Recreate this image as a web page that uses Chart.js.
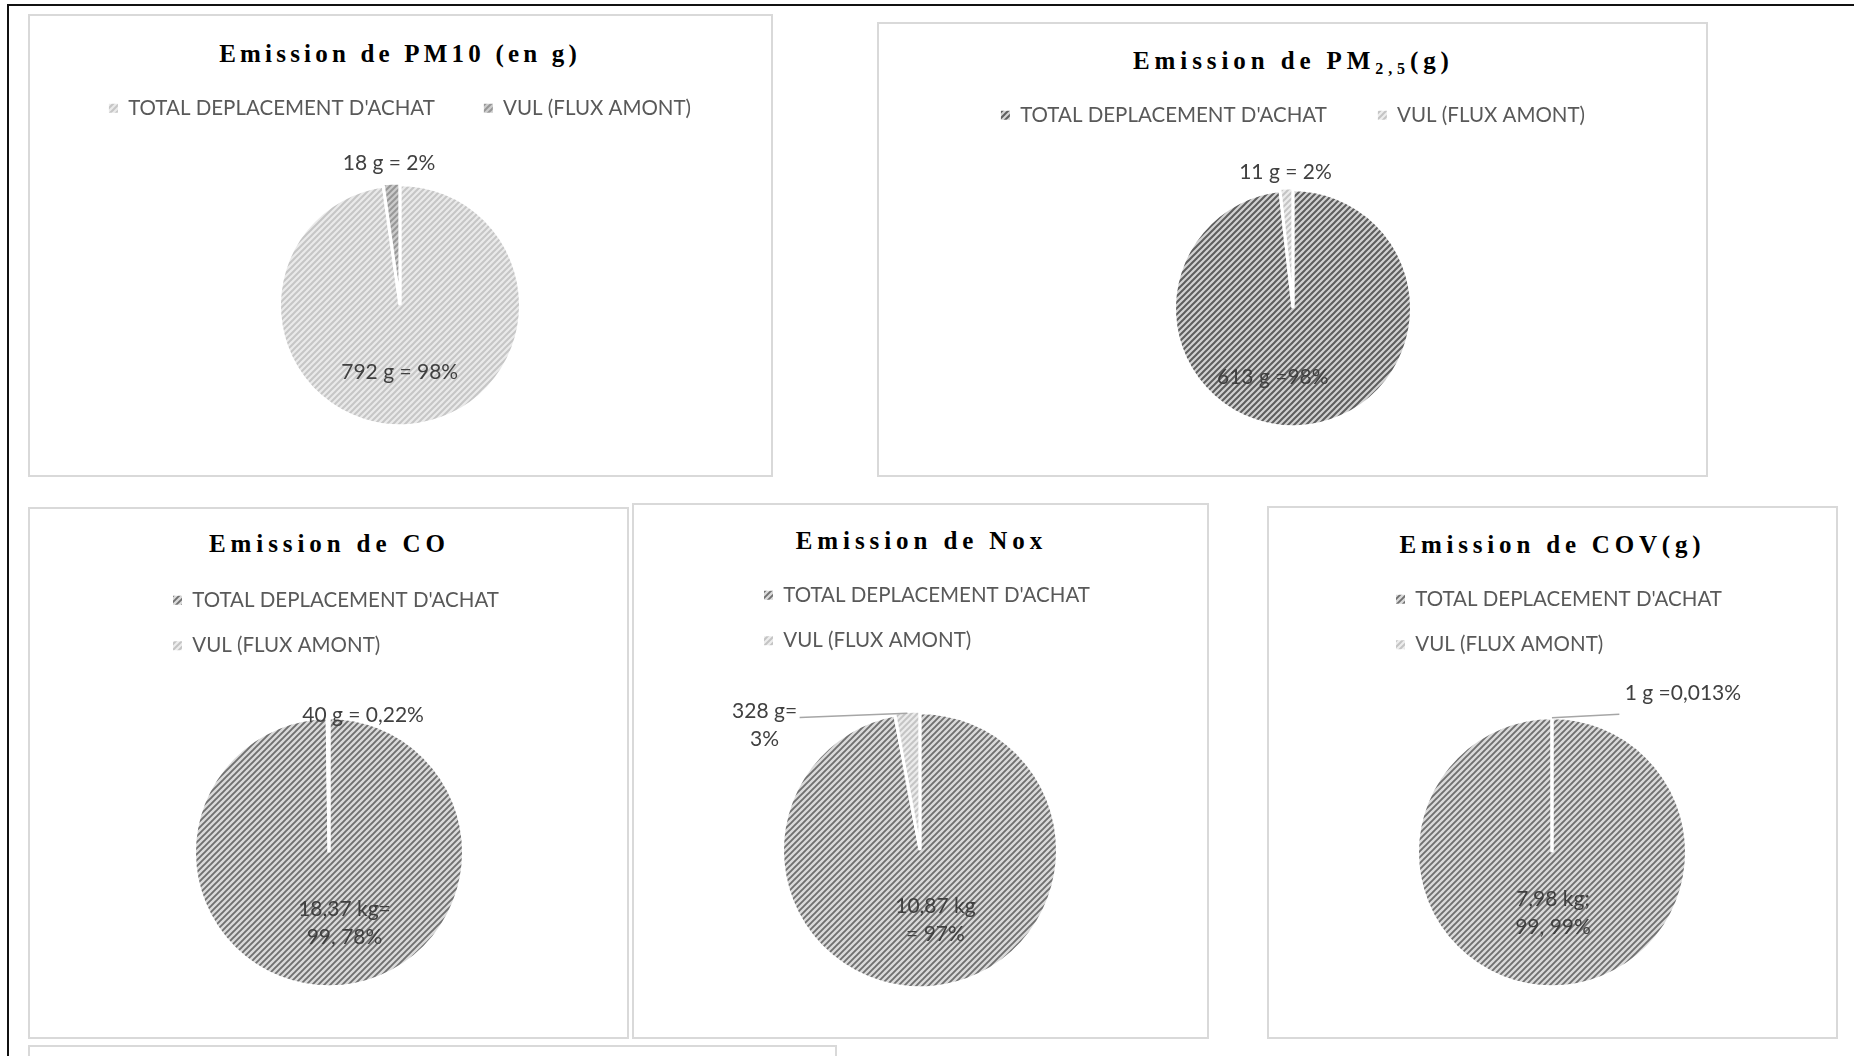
<!DOCTYPE html>
<html>
<head>
<meta charset="utf-8">
<script src="https://cdn.jsdelivr.net/npm/chart.js@4.4.1/dist/chart.umd.min.js"></script>
<style>
html,body{margin:0;padding:0;background:#fff;}
body{width:1854px;height:1056px;position:relative;overflow:hidden;}
.frame-top{position:absolute;left:7px;top:4px;width:1847px;height:2px;background:#111;}
.frame-left{position:absolute;left:7px;top:4px;width:2px;height:1052px;background:#111;}
.panel{position:absolute;border:2px solid #d9d9d9;box-sizing:border-box;}
.title{position:absolute;width:700px;font-family:"Liberation Serif","Times New Roman",serif;font-weight:bold;font-size:25px;line-height:25px;color:#000;text-align:center;white-space:nowrap;}
.title sub{font-size:16px;line-height:0;vertical-align:-5px;}
.chartbox{position:absolute;}
</style>
</head>
<body>
<div class="frame-top"></div>
<div class="frame-left"></div>
<div id="root"></div>
<script>
// ---------- data ----------
const legendLabels = ["TOTAL DEPLACEMENT D'ACHAT", "VUL (FLUX AMONT)"];

const pm10Values = [792, 18];
const pm10Texts = ["792 g = 98%", "18 g = 2%"];

const pm25Values = [613, 11];
const pm25Texts = ["613 g =98%", "11 g = 2%"];

const coValues = [18370, 40];
const coTexts = [["18,37 kg=", "99, 78%"], ["40 g = 0,22%"]];

const noxValues = [10870, 328];
const noxTexts = [["10,87 kg", "= 97%"], ["328 g=", "3%"]];

const covValues = [7980, 1];
const covTexts = [["7,98 kg;", "99, 99%"], ["1 g =0,013%"]];

const titles = ["Emission de PM10 (en g)", "Emission de PM<sub>2,5</sub>(g)", "Emission de CO", "Emission de Nox", "Emission de COV(g)"];

// ---------- styling helpers ----------
function hatch(bg, fg, size, lw) {
  const c = document.createElement('canvas');
  c.width = c.height = size;
  const x = c.getContext('2d');
  x.fillStyle = bg; x.fillRect(0, 0, size, size);
  x.strokeStyle = fg; x.lineWidth = lw;
  x.beginPath();
  for (let k = 0; k <= 2; k++) {
    const cc = k * size;
    x.moveTo(cc + 2, -2); x.lineTo(cc - size - 2, size + 2);
  }
  x.stroke();
  return x.createPattern(c, 'repeat');
}
const darkHatch = hatch('#dadada', '#707070', 6, 1.9);
const pm25Hatch = hatch('#d2d2d2', '#5e5e5e', 6, 2.0);
const lightHatch = hatch('#ededed', '#c4c4c4', 6, 2.0);
const pm10Light = hatch('#eaeaea', '#c6c6c6', 6, 2.0);
const pm10Dark = hatch('#cdcdcd', '#979797', 6, 2.0);

const LEG_FS = 20.5;
const LBL_FS = 21;
const LBL_LH = 28;

const sliceLabels = {
  id: 'sliceLabels',
  afterDatasetsDraw(chart, args, opts) {
    const meta = chart.getDatasetMeta(0);
    const ctx = chart.ctx;
    ctx.save();
    ctx.font = LBL_FS + 'px Lato';
    ctx.textAlign = 'center';
    ctx.textBaseline = 'middle';
    meta.data.forEach((arc, i) => {
      const p = opts.place[i];
      const lines = [].concat(opts.texts[i]);
      const {x, y, startAngle, endAngle, outerRadius} = arc.getProps(['x', 'y', 'startAngle', 'endAngle', 'outerRadius'], true);
      const mid = (startAngle + endAngle) / 2;
      const lx = x + Math.cos(mid) * outerRadius * p.f + p.dx;
      const ly = y + Math.sin(mid) * outerRadius * p.f + p.dy;
      if (p.leader) {
        ctx.strokeStyle = '#a6a6a6';
        ctx.lineWidth = 1.5;
        ctx.beginPath();
        ctx.moveTo(lx + p.leader[0], ly + p.leader[1]);
        ctx.lineTo(x + Math.cos(mid) * outerRadius, y + Math.sin(mid) * outerRadius);
        ctx.stroke();
      }
      ctx.fillStyle = '#404040';
      lines.forEach((t, k) => ctx.fillText(t, lx, ly + (k - (lines.length - 1) / 2) * LBL_LH));
    });
    ctx.restore();
  }
};

// ---------- layout ----------
const charts = [
  {title: titles[0], tcx: 398, tcy: 53, ls: 4.2, panel: [28, 14, 773, 477], cx: 400, cy: 305, r: 119,
   align: 'center', lp: 49, row1Y: 108, rows: 1, values: pm10Values, texts: pm10Texts,
   colors: [pm10Light, pm10Dark], offsets: [0, 4],
   place: [{f: 0.56, dx: -5, dy: 0}, {f: 1.18, dx: -1, dy: 0}]},
  {title: titles[1], tcx: 1291, tcy: 60, ls: 4.9, panel: [877, 22, 1708, 477], cx: 1293, cy: 308, r: 117,
   align: 'center', lp: 51, row1Y: 115, rows: 1, values: pm25Values, texts: pm25Texts,
   colors: [pm25Hatch, lightHatch], offsets: [0, 4],
   place: [{f: 0.58, dx: -24, dy: 0}, {f: 1.15, dx: 0, dy: 0}]},
  {title: titles[2], tcx: 327, tcy: 543, ls: 4.9, panel: [28, 507, 629, 1039], cx: 329, cy: 852, r: 133,
   align: 'start', lp: 25, row1Y: 600, rows: 2, swatchX: 173, values: coValues, texts: coTexts,
   colors: [darkHatch, lightHatch], offsets: [0, 0],
   place: [{f: 0.53, dx: 15, dy: 0}, {f: 1.02, dx: 35, dy: 0}]},
  {title: titles[3], tcx: 919, tcy: 540, ls: 4.9, panel: [632, 503, 1209, 1039], cx: 920, cy: 850, r: 136,
   align: 'start', lp: 25, row1Y: 595, rows: 2, swatchX: 764, values: noxValues, texts: noxTexts,
   colors: [darkHatch, lightHatch], offsets: [0, 4],
   place: [{f: 0.51, dx: 9, dy: 0}, {f: 0.9, dx: -144, dy: -2, leader: [35, -7.5]}]},
  {title: titles[4], tcx: 1550, tcy: 544, ls: 4.8, panel: [1267, 506, 1838, 1039], cx: 1552, cy: 852, r: 133,
   align: 'start', lp: 25, row1Y: 599, rows: 2, swatchX: 1396, values: covValues, texts: covTexts,
   colors: [darkHatch, lightHatch], offsets: [0, 0],
   place: [{f: 0.457, dx: 1, dy: 0}, {f: 1.18, dx: 131, dy: 0, leader: [-63.6, 20.7]}]}
];

const root = document.getElementById('root');
function addDiv(cls, l, t, w, h) {
  const d = document.createElement('div');
  d.className = cls;
  d.style.left = l + 'px'; d.style.top = t + 'px';
  if (w != null) d.style.width = w + 'px';
  if (h != null) d.style.height = h + 'px';
  root.appendChild(d);
  return d;
}

// extra panel edge at the bottom
addDiv('panel', 28, 1045, 809, 40);

charts.forEach(spec => {
  const [pl0, pt0, pr0, pb0] = spec.panel;
  addDiv('panel', pl0, pt0, pr0 - pl0, pb0 - pt0);
  const t = addDiv('title', spec.tcx - 350, spec.tcy - 12.5);
  t.style.letterSpacing = spec.ls + 'px';
  t.style.paddingLeft = spec.ls + 'px';
  t.style.boxSizing = 'border-box';
  t.innerHTML = spec.title;

  const T = spec.row1Y - LEG_FS / 2 - spec.lp;
  const legendH = spec.rows * (LEG_FS + spec.lp) + 10;
  const areaTop = T + legendH;
  const bottom = 2 * spec.cy - areaTop;
  const cl = pl0 + 2, cr = pr0 - 2;
  let padL, padR;
  if (spec.align === 'start') {
    const A = spec.swatchX - spec.lp;
    const B = 2 * spec.cx - A;
    padL = A - cl; padR = cr - B;
  } else {
    const diff = 2 * spec.cx - cl - cr;
    padL = Math.max(0, diff); padR = Math.max(0, -diff);
  }
  const box = addDiv('chartbox', cl, T, cr - cl, bottom - T);
  const cv = document.createElement('canvas');
  box.appendChild(cv);

  new Chart(cv, {
    type: 'pie',
    data: {
      labels: legendLabels,
      datasets: [{
        data: spec.values,
        backgroundColor: spec.colors,
        borderColor: '#ffffff',
        borderWidth: 3,
        offset: spec.offsets
      }]
    },
    options: {
      responsive: true,
      maintainAspectRatio: false,
      animation: false,
      events: [],
      radius: spec.r + 1.5,
      layout: {padding: {left: padL, right: padR, top: 0, bottom: 0}},
      plugins: {
        tooltip: {enabled: false},
        legend: {
          display: true,
          position: 'top',
          align: spec.align,
          labels: {
            boxWidth: 9, boxHeight: 9, padding: spec.lp, color: '#595959',
            font: {family: 'Lato', size: LEG_FS},
            generateLabels(chart) {
              return Chart.overrides.pie.plugins.legend.labels.generateLabels(chart)
                .map(l => Object.assign(l, {lineWidth: 0, strokeStyle: 'rgba(0,0,0,0)'}));
            }
          }
        },
        sliceLabels: {texts: spec.texts, place: spec.place}
      }
    },
    plugins: [sliceLabels]
  });
});
</script>
</body>
</html>
